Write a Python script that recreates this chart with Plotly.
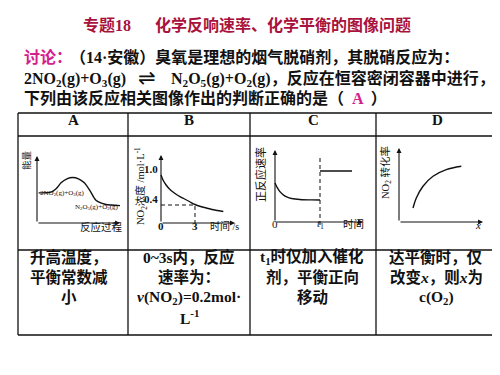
import plotly.graph_objects as go

W, H = 500, 375

# ---------------- data ----------------
A_progress = [0.2, 1.7, 2.3, 2.9, 3.6, 4.3, 5.0, 5.7, 6.4, 7.1, 8.2, 10.0]
A_energy = [4.5, 4.6, 5.1, 6.0, 6.6, 6.8, 6.6, 6.0, 4.8, 3.4, 2.8, 2.6]

B_time = [0, 0.2, 0.45, 0.75, 1.0, 1.5, 2.0, 2.5, 3.0, 3.5, 4.0, 4.5, 5.0, 5.5]
B_conc = [1.0, 0.89, 0.80, 0.72, 0.67, 0.59, 0.53, 0.47, 0.41, 0.37, 0.34, 0.31, 0.29, 0.27]
B_xticks = [0, 3]
B_yticks = [1.0, 0.4]
B_mark_t, B_mark_c = 3, 0.4

C_time_before = [0, 0.25, 0.5, 0.75, 1.0, 1.25, 1.5, 1.75, 2.0, 2.5, 3.0, 4.0, 5.0]
C_rate_before = [3.9, 3.43, 3.09, 2.84, 2.66, 2.53, 2.44, 2.37, 2.33, 2.27, 2.23, 2.21, 2.2]
C_t1 = 5
C_time_after = [5, 8.56]
C_rate_after = [5.1, 5.1]
C_xticks = [0, C_t1]
C_xticktext = ["0", "<i>t</i><sub>1</sub>"]

D_x = [1.4, 1.73, 2.4, 3.4, 4.73, 6.23]
D_conv = [1.4, 2.4, 3.57, 4.57, 5.23, 5.57]

headers = ["A", "B", "C", "D"]
answers = [
    ["升高温度，", "平衡常数减", "小"],
    ["0~3s内，反应", "速率为：", "<i>v</i>(NO<sub>2</sub>)=0.2mol·", "L<sup>-1</sup>"],
    ["t<sub>1</sub>时仅加入催化", "剂，平衡正向", "移动"],
    ["达平衡时，仅", "改变<i>x</i>，则<i>x</i>为", "c(O<sub>2</sub>)"],
]

# ---------------- layout helpers ----------------
FONT = "Liberation Serif, Noto Sans CJK SC, serif"
RED = "#a8123c"
PINK = "#d4208a"
INK = "#111111"
DY = -6  # vertical text correction (px)

col_edges = [10, 120, 242, 368, 490]
row_edges = [105, 128, 242, 327]


def px(x, y):
    return x / W, 1 - y / H


charts = [
    dict(ox=29, oy=215, sx=8.3, sy=6.7, cell=0),
    dict(ox=153, oy=217, sx=11.33, sy=50, cell=1),
    dict(ox=267, oy=214, sx=9.0, sy=10, cell=2),
    dict(ox=391, oy=214, sx=10.0, sy=10, cell=3),
]

fig = go.Figure()
layout = dict(
    width=W, height=H, margin=dict(l=0, r=0, t=0, b=0),
    paper_bgcolor="white", plot_bgcolor="rgba(0,0,0,0)",
    showlegend=False,
)
for i, c in enumerate(charts):
    cx0, cx1 = col_edges[c["cell"]], col_edges[c["cell"] + 1]
    cy0, cy1 = row_edges[1], row_edges[2]
    sfx = "" if i == 0 else str(i + 1)
    layout["xaxis" + sfx] = dict(
        domain=[cx0 / W, cx1 / W],
        range=[(cx0 - c["ox"]) / c["sx"], (cx1 - c["ox"]) / c["sx"]],
        visible=False, fixedrange=True, anchor="y" + sfx,
    )
    layout["yaxis" + sfx] = dict(
        domain=[1 - cy1 / H, 1 - cy0 / H],
        range=[(c["oy"] - cy1) / c["sy"], (c["oy"] - cy0) / c["sy"]],
        visible=False, fixedrange=True, anchor="x" + sfx,
    )
fig.update_layout(**layout)

fig.add_trace(go.Scatter(x=A_progress, y=A_energy, mode="lines", line=dict(color=INK, width=1.4, shape="spline", smoothing=0.8), xaxis="x", yaxis="y"))
fig.add_trace(go.Scatter(x=B_time, y=B_conc, mode="lines", line=dict(color=INK, width=1.4, shape="spline"), xaxis="x2", yaxis="y2"))
fig.add_trace(go.Scatter(x=[0, B_mark_t, B_mark_t], y=[B_mark_c, B_mark_c, 0.04], mode="lines", line=dict(color=INK, width=1, dash="4px,3px"), xaxis="x2", yaxis="y2"))
fig.add_trace(go.Scatter(x=C_time_before, y=C_rate_before, mode="lines", line=dict(color=INK, width=1.4, shape="spline"), xaxis="x3", yaxis="y3"))
fig.add_trace(go.Scatter(x=C_time_after, y=C_rate_after, mode="lines", line=dict(color=INK, width=1.6), xaxis="x3", yaxis="y3"))
fig.add_trace(go.Scatter(x=[C_t1, C_t1], y=[6.4, -0.3], mode="lines", line=dict(color=INK, width=1, dash="4px,3px"), xaxis="x3", yaxis="y3"))
fig.add_trace(go.Scatter(x=D_x, y=D_conv, mode="lines", line=dict(color=INK, width=1.4, shape="spline"), xaxis="x4", yaxis="y4"))

ann = []

axis_ends = [(10.0, 10.0, 0), (6.53, 1.4, 0.04), (9.78, 7.2, 0), (8.4, 7.4, 0)]
for i, (xe, ye, yb) in enumerate(axis_ends):
    sfx = "" if i == 0 else str(i + 1)
    for (hx, hy) in [(xe, yb), (0, ye)]:
        ann.append(dict(x=hx, y=hy, ax=0, ay=yb, xref="x" + sfx, yref="y" + sfx,
                        axref="x" + sfx, ayref="y" + sfx, text="", showarrow=True,
                        arrowhead=2, arrowsize=0.9, arrowwidth=1.1, arrowcolor=INK, standoff=0, startstandoff=0))


def text(x, y, t, size=16, color=INK, xanchor="left", angle=0, bold=True, family=FONT):
    xp, yp = px(x, y + DY)
    ann.append(dict(x=xp, y=yp, xref="paper", yref="paper", text=("<b>%s</b>" % t) if bold else t,
                    showarrow=False, xanchor=xanchor, yanchor="middle", textangle=angle,
                    font=dict(family=family, size=size, color=color)))


text(73, 23, "专题18", 16, RED)
text(145, 23, "化学反响速率、化学平衡的图像问题", 16, RED)
text(14, 55, "讨论：", 16, PINK)
text(60, 55, "（14·安徽）臭氧是理想的烟气脱硝剂，其脱硝反应为：", 16)
text(14, 77, "2NO<sub>2</sub>(g)+O<sub>3</sub>(g)", 16)
text(139, 76, "⇌", 21, xanchor="center", bold=False, family="DejaVu Sans")
text(161, 77, "N<sub>2</sub>O<sub>5</sub>(g)+O<sub>2</sub>(g)，反应在恒容密闭容器中进行，", 16)
text(14, 96, "下列由该反应相关图像作出的判断正确的是（  <span style='color:%s'>A</span>  ）" % PINK, 16)

for k, h in enumerate(headers):
    text((col_edges[k] + col_edges[k + 1]) / 2, 118, h, 15, xanchor="center")

ans_x = [61, 181, 304, 428]
for k, lines in enumerate(answers):
    for j, s in enumerate(lines):
        text(ans_x[k], 255 + 20 * j, s, 15.5, xanchor="center")

text(18, 158, "能量", 9.5, angle=-90, xanchor="center", bold=False)
text(30, 191, "2NO<sub>2</sub>(g)+O<sub>3</sub>(g)", 7, bold=False)
text(65, 205, "N<sub>2</sub>O<sub>5</sub>(g)+O<sub>2</sub>(g)", 7, bold=False)
text(70, 225, "反应过程", 10.5, bold=False)

text(133, 184, "NO<sub>2</sub>浓度 /mol·L<sup>-1</sup>", 10.5, angle=-90, xanchor="center", bold=False)
for v in B_yticks:
    ann.append(dict(x=0, y=v, xref="x2", yref="y2", text="<b>%.1f</b>" % v, showarrow=False,
                    xanchor="right", yanchor="middle", xshift=-1, yshift=-DY, font=dict(family=FONT, size=11, color=INK)))
for v in B_xticks:
    ann.append(dict(x=v, y=0.04, xref="x2", yref="y2", text="<b>%d</b>" % v, showarrow=False,
                    xanchor="center", yanchor="middle", yshift=-9 - DY, font=dict(family=FONT, size=11, color=INK)))
text(200, 224, "时间 /s", 10, bold=False)

text(252, 173, "正反应速率", 11, angle=-90, xanchor="center", bold=False)
for v, t in zip(C_xticks, C_xticktext):
    ann.append(dict(x=v, y=0, xref="x3", yref="y3", text=t, showarrow=False,
                    xanchor="center", yanchor="middle", yshift=-8 - DY, font=dict(family=FONT, size=11, color=INK)))
text(345, 222, "时间", 10.5, xanchor="center", bold=False)

text(378, 171, "NO<sub>2</sub> 转化率", 10.5, angle=-90, xanchor="center", bold=False)
text(470, 223, "<i>x</i>", 11, xanchor="center", bold=False)

fig.update_layout(annotations=ann)

shapes = []
for xv in col_edges:
    x0, y0 = px(xv, row_edges[0])
    x1, y1 = px(xv, row_edges[-1])
    shapes.append(dict(type="line", xref="paper", yref="paper", x0=x0, y0=y0, x1=x1, y1=y1, line=dict(color=INK, width=1.3)))
for yv in row_edges:
    x0, y0 = px(col_edges[0], yv)
    x1, y1 = px(col_edges[-1], yv)
    shapes.append(dict(type="line", xref="paper", yref="paper", x0=x0, y0=y0, x1=x1, y1=y1, line=dict(color=INK, width=1.3)))
fig.update_layout(shapes=shapes)

fig.write_html("out.html", config={"displayModeBar": False})
